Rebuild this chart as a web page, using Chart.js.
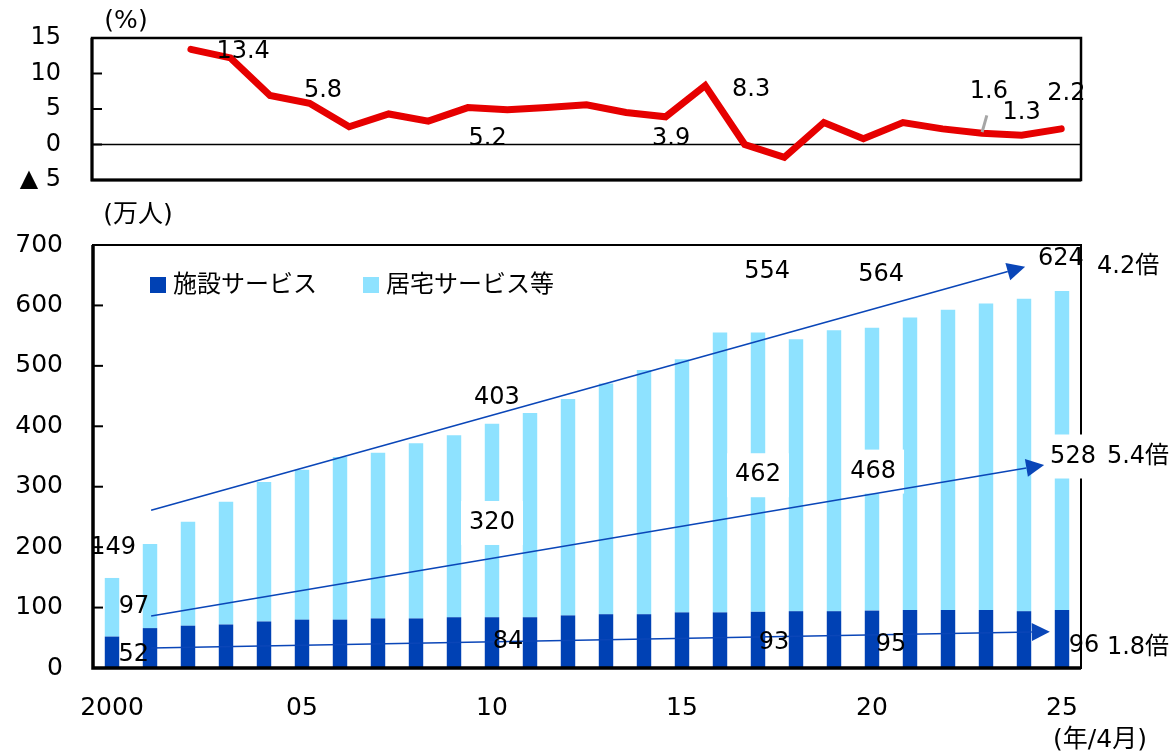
<!DOCTYPE html>
<html>
<head>
<meta charset="utf-8">
<script src="https://cdn.jsdelivr.net/npm/chart.js@4.4.1/dist/chart.umd.min.js"></script>
<style>
  html, body { margin: 0; padding: 0; background: #fff; }
  #wrap { position: relative; width: 1175px; height: 755px; }
  #rate { position: absolute; left: 0; top: 0; }
  #users { position: absolute; left: 0; top: 200px; }
</style>
</head>
<body>
<div id="wrap">
  <canvas id="rate" width="1175" height="200"></canvas>
  <canvas id="users" width="1175" height="555"></canvas>
</div>
<script>
// 年（4月末）
const years = [2000, 2001, 2002, 2003, 2004, 2005, 2006, 2007, 2008, 2009, 2010, 2011, 2012,
               2013, 2014, 2015, 2016, 2017, 2018, 2019, 2020, 2021, 2022, 2023, 2024, 2025];
// 施設サービス（万人）
const shisetsu = [52, 66, 70, 72, 77, 80, 80, 82, 82, 84, 84, 84, 87,
                  89, 89, 92, 92, 93, 94, 94, 95, 96, 96, 96, 94, 96];
// 居宅サービス等（万人）
const kyotaku = [97, 139, 172, 203, 231, 248, 269, 274, 290, 301, 320, 338, 358,
                 382, 404, 419, 463, 462, 450, 465, 468, 484, 497, 507, 517, 528];
// 合計の前年比（%）, 2001年〜
const rateYears = years.slice(1);
const growthRate = [null, null, 13.4, 12.2, 6.9, 5.8, 2.5, 4.3, 3.3, 5.2, 4.9, 5.2, 5.6,
                    4.5, 3.9, 8.3, 0.0, -1.8, 3.1, 0.8, 3.1, 2.2, 1.6, 1.3, 2.2];

// notes: [category position, value, text, white box]
const barNotes = [
  [0.03, 199, '149', false], [0.58, 101, '97', false], [0.57, 21.5, '52', false],
  [10.13, 447, '403', false], [10.0, 240, '320', true], [10.42, 43.6, '84', false],
  [17.24, 656, '554', false], [17.0, 319, '462', true], [17.42, 41, '93', false],
  [20.24, 650, '564', false], [20.03, 325, '468', true], [20.5, 38, '95', false],
  [24.97, 677, '624', false], [25.29, 350, '528', true], [25.58, 37, '96', false],
  [26.74, 664, '4.2倍', false], [27.0, 350, '5.4倍', false], [27.0, 33, '1.8倍', false]
];
const rateNotes = [
  [3.32, 13.0, '13.4'], [5.34, 7.6, '5.8'], [9.5, 0.8, '5.2'], [14.14, 0.8, '3.9'],
  [16.16, 7.7, '8.3'], [22.17, 7.4, '1.6'], [23.0, 4.5, '1.3'], [24.13, 7.1, '2.2']
];
// trend arrows: [from pos, from value, to pos, to value]
const arrows = [
  [1.03, 261, 24.03, 664],
  [1.03, 86, 24.53, 336],
  [1.03, 33, 24.68, 60]
];

const FONT = '"DejaVu Sans", "Noto Sans CJK JP", sans-serif';
const DARK = '#0041b4';
const LIGHT = '#8ee2ff';
const RED = '#e60000';
const ARROW = '#0a46b8';

function text(ctx, s, x, y, size, align) {
  ctx.font = size + 'px ' + FONT;
  ctx.fillStyle = '#000';
  ctx.textAlign = align || 'center';
  ctx.textBaseline = 'middle';
  ctx.fillText(s, x, y);
}

// y axis: fixed width, no label overflow padding
function fixY(width) {
  return s => {
    s.width = width;
    s.paddingTop = 0;
    s.paddingBottom = 0;
  };
}

// box round the plot + inward ticks
const frame = {
  id: 'frame',
  beforeDatasetsDraw(chart, args, o) {
    if (!o.zero) return;
    const {ctx, chartArea: a, scales: {y}} = chart;
    ctx.save();
    ctx.strokeStyle = '#000';
    ctx.lineWidth = 1.3;
    ctx.beginPath();
    ctx.moveTo(a.left, y.getPixelForValue(0));
    ctx.lineTo(a.right, y.getPixelForValue(0));
    ctx.stroke();
    ctx.restore();
  },
  afterDatasetsDraw(chart, args, o) {
    const {ctx, chartArea: a, scales: {y}} = chart;
    ctx.save();
    ctx.strokeStyle = '#000';
    ctx.lineWidth = o.thin;
    ctx.strokeRect(a.left, a.top, a.right - a.left, a.bottom - a.top);
    ctx.lineWidth = o.thick;
    ctx.beginPath();
    ctx.moveTo(a.left, a.top);
    ctx.lineTo(a.left, a.bottom);
    ctx.lineTo(a.right, a.bottom);
    ctx.stroke();
    ctx.lineWidth = 2;
    y.ticks.forEach(t => {
      const py = y.getPixelForValue(t.value);
      ctx.beginPath();
      ctx.moveTo(a.left, py);
      ctx.lineTo(a.left + 10, py);
      ctx.stroke();
    });
    ctx.restore();
  }
};

const rateLabels = {
  id: 'rateLabels',
  afterDraw(chart) {
    const {ctx, scales: {x, y}} = chart;
    ctx.save();
    // leader line for 1.6
    ctx.strokeStyle = '#a6a6a6';
    ctx.lineWidth = 3;
    ctx.beginPath();
    ctx.moveTo(x.getPixelForValue(22.12), y.getPixelForValue(4.1));
    ctx.lineTo(x.getPixelForValue(22.0), y.getPixelForValue(1.75));
    ctx.stroke();
    rateNotes.forEach(([p, v, s]) => text(ctx, s, x.getPixelForValue(p), y.getPixelForValue(v), 24));
    text(ctx, '(%)', 126, 21, 25);
    ctx.restore();
  }
};

const userLabels = {
  id: 'userLabels',
  afterDraw(chart) {
    const {ctx, chartArea: a, scales: {x, y}} = chart;
    ctx.save();
    ctx.font = '24px ' + FONT;
    // white boxes behind some labels
    barNotes.forEach(([p, v, s, box]) => {
      if (!box) return;
      const w = ctx.measureText(s).width + 16;
      ctx.fillStyle = '#fff';
      ctx.fillRect(x.getPixelForValue(p) - w / 2, y.getPixelForValue(v) - 22, w, 44);
    });
    // trend arrows
    ctx.strokeStyle = ARROW;
    ctx.fillStyle = ARROW;
    ctx.lineWidth = 1.6;
    arrows.forEach(([p0, v0, p1, v1]) => {
      const x0 = x.getPixelForValue(p0), y0 = y.getPixelForValue(v0);
      const x1 = x.getPixelForValue(p1), y1 = y.getPixelForValue(v1);
      const ang = Math.atan2(y1 - y0, x1 - x0);
      const bx = x1 - 18 * Math.cos(ang), by = y1 - 18 * Math.sin(ang);
      ctx.beginPath();
      ctx.moveTo(x0, y0);
      ctx.lineTo(bx, by);
      ctx.stroke();
      ctx.beginPath();
      ctx.moveTo(x1, y1);
      ctx.lineTo(bx + 9 * Math.sin(ang), by - 9 * Math.cos(ang));
      ctx.lineTo(bx - 9 * Math.sin(ang), by + 9 * Math.cos(ang));
      ctx.closePath();
      ctx.fill();
    });
    barNotes.forEach(([p, v, s]) => text(ctx, s, x.getPixelForValue(p), y.getPixelForValue(v), 24));
    // legend inside the plot
    chart.data.datasets.forEach((ds, i) => {
      const lx = a.left + 57 + i * 213;
      ctx.fillStyle = ds.backgroundColor;
      ctx.fillRect(lx, a.top + 32, 16, 16);
      text(ctx, ds.label, lx + 23, a.top + 41, 24, 'left');
    });
    text(ctx, '(万人)', 138, 15, 25);
    text(ctx, '(年/4月)', 1100, 540, 25);
    ctx.restore();
  }
};

new Chart(document.getElementById('rate'), {
  type: 'line',
  data: {
    labels: rateYears,
    datasets: [{
      data: growthRate,
      borderColor: RED,
      borderWidth: 7,
      borderCapStyle: 'round',
      borderJoinStyle: 'miter',
      pointRadius: 0,
      tension: 0
    }]
  },
  options: {
    responsive: false,
    animation: false,
    layout: {padding: {left: 0, right: 94, top: 38, bottom: 20}, autoPadding: false},
    plugins: {legend: {display: false}, tooltip: {enabled: false}, frame: {thin: 2.5, thick: 3, zero: true}},
    scales: {
      x: {
        offset: true,
        ticks: {display: false},
        grid: {display: false, drawTicks: false},
        border: {display: false},
        afterFit: s => { s.height = 0; }
      },
      y: {
        min: -5, max: 15,
        ticks: {
          stepSize: 5, padding: 31, color: '#000',
          font: {family: FONT, size: 24},
          callback: v => v < 0 ? '▲ ' + (-v) : v
        },
        grid: {display: false, drawTicks: false},
        border: {display: false},
        afterFit: fixY(92)
      }
    }
  },
  plugins: [frame, rateLabels]
});

new Chart(document.getElementById('users'), {
  type: 'bar',
  data: {
    labels: years,
    datasets: [
      {label: '施設サービス', data: shisetsu, backgroundColor: DARK},
      {label: '居宅サービス等', data: kyotaku, backgroundColor: LIGHT}
    ]
  },
  options: {
    responsive: false,
    animation: false,
    layout: {padding: {left: 0, right: 94, top: 45, bottom: 0}},
    datasets: {bar: {categoryPercentage: 1, barPercentage: 0.38, borderWidth: 0}},
    plugins: {legend: {display: false}, tooltip: {enabled: false}, frame: {thin: 2, thick: 3.5, zero: false}},
    scales: {
      x: {
        stacked: true,
        ticks: {
          autoSkip: false, maxRotation: 0, padding: 25, color: '#000',
          font: {family: FONT, size: 25},
          callback: (v, i) => i % 5 ? '' : (i === 0 ? String(years[i]) : String(years[i] % 100).padStart(2, '0'))
        },
        grid: {display: false, drawTicks: false},
        border: {display: false},
        afterFit: s => { s.height = 87; }
      },
      y: {
        stacked: true,
        min: 0, max: 700,
        ticks: {stepSize: 100, padding: 30, color: '#000', font: {family: FONT, size: 25}},
        grid: {display: false, drawTicks: false},
        border: {display: false},
        afterFit: fixY(93)
      }
    }
  },
  plugins: [frame, userLabels]
});
</script>
</body>
</html>
